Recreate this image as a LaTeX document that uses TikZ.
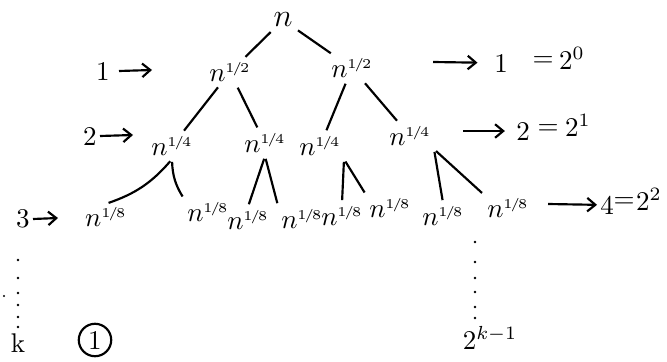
\documentclass[tikz,border=0pt]{standalone}
\usetikzlibrary{arrows.meta}
\tikzset{
  edge/.style={line width=0.8pt, shorten <=1pt, shorten >=1pt},
  lvlarrow/.style={line width=0.8pt, -{Straight Barb[length=3pt,width=5pt]}},
  lvlnode/.style={inner sep=1pt},
}
\newcommand{\npow}[1]{$n^{\scriptscriptstyle 1\mkern-2mu/\mkern-2mu#1}$}
\begin{document}
\begin{tikzpicture}[x=0.013cm,y=-0.013cm]
\useasboundingbox (0,0) rectangle (667,361);
\node[anchor=east] (paren) at (7,26){\large )};
% the tree
\node[lvlnode] (root) at (283,20){\large $n$};
\node[lvlnode] (l1a) at (230,72){\npow{2}};
\node[lvlnode] (l1b) at (352,68){\npow{2}};
\node[lvlnode] (c1) at (172,146){\npow{4}};
\node[lvlnode] (c2) at (265,143){\npow{4}};
\node[lvlnode] (c3) at (320,146){\npow{4}};
\node[lvlnode] (c4) at (410,136){\npow{4}};
\node[lvlnode] (d1) at (106,217){\npow{8}};
\node[lvlnode] (d2) at (208,212){\npow{8}};
\node[lvlnode] (d3) at (248,220){\npow{8}};
\node[lvlnode] (d4) at (302,219){\npow{8}};
\node[lvlnode] (d5) at (342,216){\npow{8}};
\node[lvlnode] (d6) at (390,208){\npow{8}};
\node[lvlnode] (d7) at (443,216){\npow{8}};
\node[lvlnode] (d8) at (508,208){\npow{8}};
\draw[edge] (root) -- (l1a);
\draw[edge] (root) -- (l1b);
\draw[edge] (l1a) -- (c1);
\draw[edge] (l1a) -- (c2);
\draw[edge] (l1b) -- (c3);
\draw[edge] (l1b) -- (c4);
\draw[edge] (c1.south) to[bend left=15] (d1.north);
\draw[edge] (c1.south) to[bend right=15] (d2.north west);
\draw[edge] (c2.south) -- (d3.north);
\draw[edge] (c2.south) -- (d4.north west);
\draw[edge] (c3.south east) -- (d5.north);
\draw[edge] (c3.south east) -- (d6.north west);
\draw[edge] (c4.south east) -- (d7.north);
\draw[edge] (c4.south east) -- (d8.north west);
% levels on the left
\node[lvlnode] (lv1) at (103,71){1};
\node[lvlnode] (lv2) at (90,136){2};
\node[lvlnode] (lv3) at (23,219){3};
\node[lvlnode] (lvk) at (18,343){k};
\coordinate (la1) at (152,70);
\coordinate (la2) at (133,135);
\coordinate (la3) at (58,218);
\draw[lvlarrow] (lv1) ++(16,0) -- (la1);
\draw[lvlarrow] (lv2) ++(10,0) -- (la2);
\draw[lvlarrow] (lv3) ++(10,0) -- (la3);
\foreach \y in {260,278,293,305,317,327}
  \fill (18,\y) circle (1.3);
\fill (4,296) circle (1.1);
\node[draw,circle,line width=0.8pt,inner sep=1pt,minimum size=12pt] (stepone) at (95,340){1};
% counts on the right
\coordinate (ra1) at (433,62);
\coordinate (ra2) at (463,131);
\coordinate (ra3) at (548,204);
\node[lvlnode] (r1) at (501,63){1};
\node[lvlnode] (e1) at (543,62){$=$};
\node[lvlnode] (p1) at (572,58){$2^0$};
\node[lvlnode] (r2) at (523,131){2};
\node[lvlnode] (e2) at (548,130){$=$};
\node[lvlnode] (p2) at (578,125){$2^1$};
\node[lvlnode] (r3) at (607,205){4};
\node[lvlnode] (e3) at (624,203){$=$};
\node[lvlnode] (p3) at (649,199){$2^2$};
\draw[lvlarrow,shorten >=5pt] (ra1) -- (r1);
\draw[lvlarrow,shorten >=3pt] (ra2) -- (r2);
\draw[lvlarrow] (ra3) -- (r3);
\foreach \y in {242,262,278,292,307,318}
  \fill (475,\y) circle (1.3);
\node[lvlnode] (pk) at (490,338){$2^{k-1}$};
\end{tikzpicture}
\end{document}
